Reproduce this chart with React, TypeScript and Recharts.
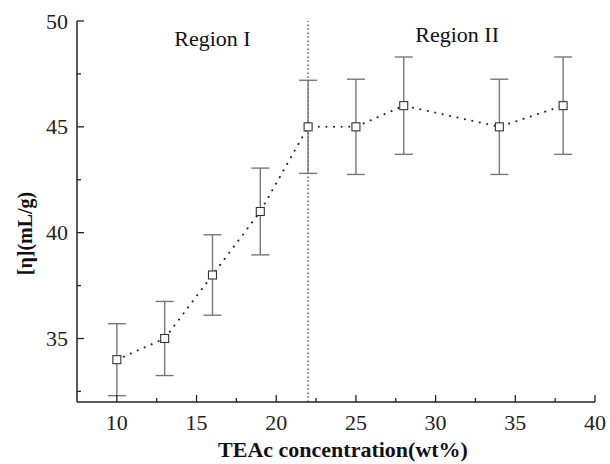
import React from 'react';
import { ComposedChart, Line, XAxis, YAxis, ErrorBar, ReferenceLine, ReferenceDot } from 'recharts';

const concentrations = [10, 13, 16, 19, 22, 25, 28, 34, 38];
const viscosity = [34, 35, 38, 41, 45, 45, 46, 45, 46];
const errors = [1.7, 1.75, 1.9, 2.05, 2.2, 2.25, 2.3, 2.25, 2.3];
const xTicks = [10, 12.5, 15, 17.5, 20, 22.5, 25, 27.5, 30, 32.5, 35, 37.5, 40];
const yTicks = [32.5, 35, 37.5, 40, 42.5, 45, 47.5, 50];
const regions = [
  { label: 'Region I', x: 16.0, y: 49.2 },
  { label: 'Region II', x: 31.35, y: 49.4 },
];

const data = concentrations.map((c, i) => ({ x: c, y: viscosity[i], err: errors[i] }));

const FONT = '"Liberation Serif", "Times New Roman", serif';
const AX = '#222';

const XTick = (props: any) => {
  const { x, y, payload } = props;
  const v = payload.value;
  const major = v % 5 === 0;
  return (
    <g>
      <line x1={x} y1={y} x2={x} y2={y - (major ? 7 : 4)} stroke={AX} strokeWidth={1.3} />
      {major && (
        <text x={x} y={y + 28} textAnchor="middle" fontSize={22} fontFamily={FONT} fill="#222">
          {v}
        </text>
      )}
    </g>
  );
};

const YTick = (props: any) => {
  const { x, y, payload } = props;
  const v = payload.value;
  const major = v % 5 === 0;
  return (
    <g>
      <line x1={x} y1={y} x2={x + (major ? 7 : 4)} y2={y} stroke={AX} strokeWidth={1.3} />
      {major && (
        <text x={x - 9} y={y + 7.5} textAnchor="end" fontSize={22} fontFamily={FONT} fill="#222">
          {v}
        </text>
      )}
    </g>
  );
};

const SquareDot = (props: any) => {
  const { cx, cy } = props;
  if (cx == null || cy == null) return null;
  return <rect x={cx - 4} y={cy - 4} width={8} height={8} fill="#fff" stroke="#333" strokeWidth={1.1} />;
};

export default function App() {
  return (
    <div style={{ position: 'absolute', left: 0, top: 0, background: '#fff' }}>
      <ComposedChart width={610} height={464} data={data} margin={{ top: 21, right: 15, bottom: 0, left: 0 }}>
        <XAxis
          xAxisId="b"
          dataKey="x"
          type="number"
          domain={[7.5, 40]}
          ticks={xTicks}
          interval={0}
          tickSize={0}
          tickMargin={0}
          tickLine={false}
          tick={<XTick />}
          height={62}
          axisLine={{ stroke: AX, strokeWidth: 1.5 }}
          allowDataOverflow
          label={{
            content: (p: any) => {
              const vb = p.viewBox;
              return (
                <text x={vb.x + vb.width / 2 + 7} y={457} textAnchor="middle" fontSize={22} fontWeight="bold" fontFamily={FONT} fill="#111">
                  TEAc concentration(wt%)
                </text>
              );
            },
          }}
        />
        <XAxis xAxisId="t" orientation="top" type="number" domain={[7.5, 40]} tick={false} tickLine={false} height={0} axisLine={{ stroke: AX, strokeWidth: 1.5 }} />
        <YAxis
          yAxisId="l"
          type="number"
          domain={[32, 50]}
          ticks={yTicks}
          interval={0}
          tickSize={0}
          tickMargin={0}
          tickLine={false}
          tick={<YTick />}
          width={77}
          axisLine={{ stroke: AX, strokeWidth: 1.5 }}
          allowDataOverflow
          label={{
            content: (p: any) => {
              const vb = p.viewBox;
              const cx = 25;
              const cy = vb.y + vb.height / 2 + 22;
              return (
                <text x={cx} y={cy} transform={`rotate(-90 ${cx} ${cy})`} textAnchor="middle" dominantBaseline="central" fontSize={20} fontWeight="bold" fontFamily={FONT} fill="#111">
                  [η](mL/g)
                </text>
              );
            },
          }}
        />
        <YAxis yAxisId="r" orientation="right" type="number" domain={[32, 50]} tick={false} tickLine={false} width={0} axisLine={{ stroke: AX, strokeWidth: 1.5 }} />
        <ReferenceLine xAxisId="b" yAxisId="l" x={22} stroke="#333" strokeWidth={1.2} strokeDasharray="1.5 2.5" />
        {regions.map((r) => (
          <ReferenceDot
            key={r.label}
            xAxisId="b"
            yAxisId="l"
            x={r.x}
            y={r.y}
            r={0}
            stroke="none"
            fill="none"
            label={{ value: r.label, position: 'center', fontSize: 22, fontFamily: FONT, fill: '#111' }}
          />
        ))}
        <Line
          xAxisId="b"
          yAxisId="l"
          dataKey="y"
          stroke="#222"
          strokeWidth={2}
          strokeDasharray="0.1 7.5"
          strokeLinecap="round"
          dot={<SquareDot />}
          activeDot={false}
          isAnimationActive={false}
        >
          <ErrorBar dataKey="err" width={9} stroke="#777" strokeWidth={1.4} direction="y" />
        </Line>
      </ComposedChart>
    </div>
  );
}
